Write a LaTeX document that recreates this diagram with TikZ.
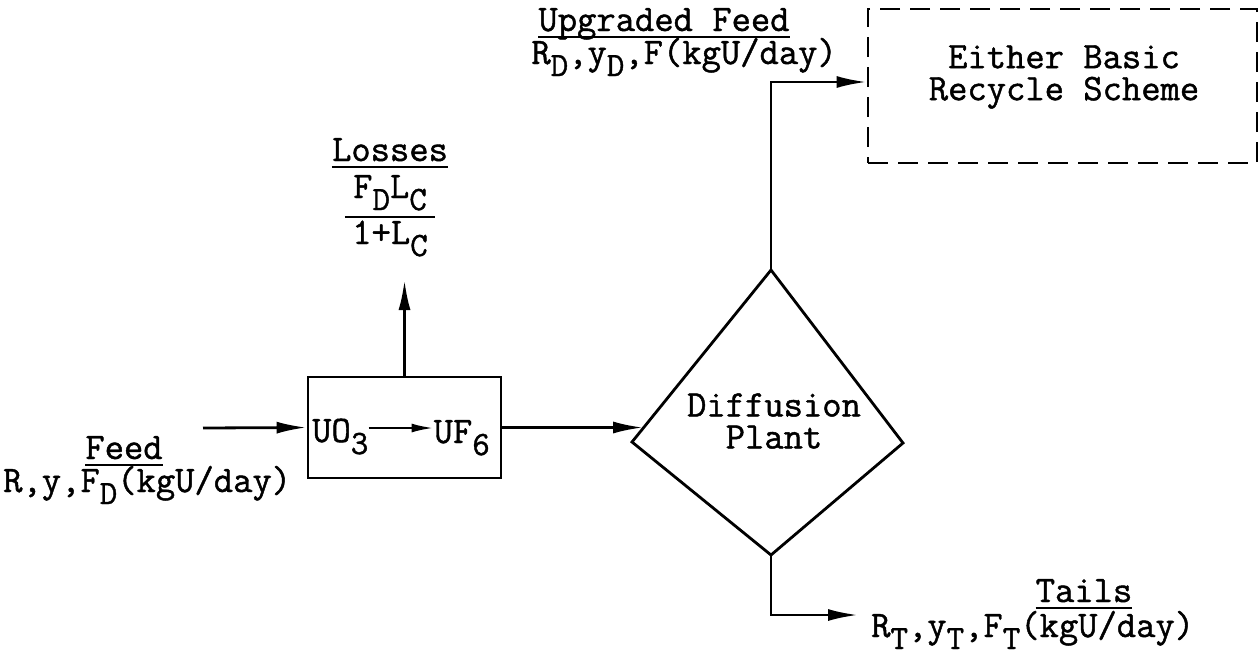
\documentclass[tikz,border=0pt]{standalone}
\usepackage{fontspec}
\newfontfamily\tyfont{Latin Modern Mono}[FakeBold=1.2]
\usetikzlibrary{arrows.meta}
\newcommand{\sub}[1]{\raisebox{-0.32em}{\fontsize{34}{34}\selectfont #1}}

\tikzset{% typewriter flow sheet
  lbl/.style ={font=\tyfont\fontsize{37.5}{32}\selectfont, inner sep=0pt, align=center},
  flow/.style={line width=2.8pt, -{Latex[length=30pt,width=12pt]}},
  uline/.style={line width=2.6pt},
  blockbox/.style={draw, line width=2.8pt, minimum width=193pt, minimum height=101pt},
  recbox/.style={draw, line width=2.8pt, dash pattern=on 20pt off 10pt,
    minimum width=389pt, minimum height=154pt},
}

\begin{document}
\begin{tikzpicture}[x=1pt, y=-1pt]
  \useasboundingbox (0,0) rectangle (1260,656);
  % conversion box
  \node[blockbox] (conv) at (404.5, 427.5) {};
  \node[lbl, anchor=base west] (uo) at (312, 442) {UO\sub{3}};
  \node[lbl, anchor=base east] (uf) at (490, 443) {UF\sub{6}};
  \draw[line width=2.4pt, -{Latex[length=22pt,width=9pt]}] (uo.east |- 0,428) -- (uf.west |- 0,428);
  % diffusion plant
  \coordinate (dtop) at (771, 270);
  \coordinate (dright) at (903, 443);
  \coordinate (dbot) at (771, 555);
  \coordinate (dleft) at (632, 442);
  \draw[line width=2.8pt, line join=miter] (dtop) -- (dright) -- (dbot) -- (dleft) -- cycle;
  \node[lbl] (dtxt) at (774, 421) {Diffusion\\Plant};
  \path (dleft) -- (dtop) coordinate[pos=0.08] (din);
  % recycle scheme
  \node[recbox] (recyc) at (1062.5, 86) {};
  \node[lbl] (rtxt) at (1064, 77) {Either Basic\\Recycle Scheme};
  \coordinate (recin) at (recyc.west |- 0,82);
  % stream ends
  \coordinate (feedin) at (203, 428);
  \coordinate (lossout) at (404.5, 280);
  \coordinate (tailout) at (858, 615);
  % labels
  \node[lbl, anchor=base] (feedhd) at (124, 459) {Feed};
  \node[lbl, anchor=base west] (feedln) at (3, 492) {R,y,F\sub{D}(kgU/day)};
  \node[lbl, anchor=base] (losshd) at (390, 161) {Losses};
  \node[lbl, anchor=base] (lossnum) at (390, 198) {F\sub{D}L\sub{C}};
  \node[lbl, anchor=base] (lossden) at (390, 244) {1+L\sub{C}};
  \node[lbl, anchor=base] (uphd) at (664, 31) {Upgraded Feed};
  \node[lbl, anchor=base east] (upln) at (837, 64) {R\sub{D},y\sub{D},F(kgU/day)};
  \node[lbl, anchor=base] (tailhd) at (1084, 602) {Tails};
  \node[lbl, anchor=base west] (tailln) at (871, 637) {R\sub{T},y\sub{T},F\sub{T}(kgU/day)};
  \draw[uline] ([yshift=-6pt]feedhd.base west) -- ([yshift=-6pt]feedhd.base east);
  \draw[uline] ([yshift=-6pt]losshd.base west) -- ([yshift=-6pt]losshd.base east);
  \draw[uline] ([xshift=-8pt]lossnum.south west |- 0,217) -- ([xshift=8pt]lossnum.south east |- 0,217);
  \draw[uline] ([yshift=-6pt]uphd.base west) -- ([yshift=-6pt]uphd.base east);
  \draw[uline] ([yshift=-6pt]tailhd.base west) -- ([yshift=-6pt]tailhd.base east);
  % streams
  \draw[flow] (feedin) -- (conv.west);
  \draw[flow] (conv.north) -- (lossout);
  \draw[flow] (conv.east) -- (conv.east -| din);
  \draw[flow] (dtop) |- (recin);
  \draw[flow] (dbot) |- (tailout);
\end{tikzpicture}
\end{document}
